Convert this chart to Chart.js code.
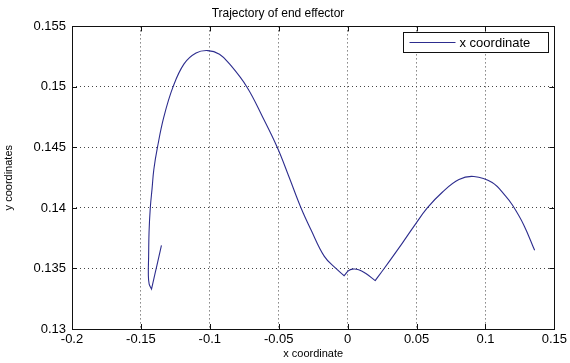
<!DOCTYPE html>
<html>
<head>
<meta charset="utf-8">
<script src="https://cdn.jsdelivr.net/npm/chart.js@4.4.1/dist/chart.umd.min.js"></script>
<style>
  html, body { margin: 0; padding: 0; background: #fff; }
</style>
</head>
<body>
<canvas id="chart" width="570" height="363"></canvas>
<script>
// trajectory of the end effector (in path order)
const trajX = [-0.1351, -0.1369, -0.1387, -0.1405, -0.1423, -0.1440, -0.1446, -0.1444, -0.1441,
  -0.1432, -0.1419, -0.1406, -0.1380, -0.1334, -0.1267, -0.1187, -0.1100, -0.1014, -0.0930,
  -0.0857, -0.0731, -0.0616, -0.0510, -0.0423, -0.0338, -0.0266, -0.0169, -0.0085, -0.0025,
  0.0005, 0.0035, 0.0080, 0.0130, 0.0200, 0.0265, 0.0397, 0.0482, 0.0578, 0.0687, 0.0808,
  0.0916, 0.1049, 0.1145, 0.1198, 0.1278, 0.1357];
const trajY = [0.1369, 0.1360, 0.1351, 0.1342, 0.1333, 0.1337, 0.1345, 0.1360, 0.1380,
  0.1400, 0.1416, 0.1432, 0.1450, 0.1475, 0.1500, 0.1519, 0.1528, 0.1530, 0.1527,
  0.1519, 0.1500, 0.1475, 0.1450, 0.1425, 0.1400, 0.1382, 0.1360, 0.1350, 0.1344,
  0.1348, 0.13495, 0.1349, 0.1346, 0.1340, 0.1350, 0.1371, 0.1385, 0.1400, 0.1413, 0.14235,
  0.1426, 0.1421, 0.1410, 0.1402, 0.1386, 0.1365];
// indices where the path has a sharp corner
const cornerIdx = [4, 28, 33];

const xTicks = [-0.2, -0.15, -0.1, -0.05, 0, 0.05, 0.1, 0.15];
const yTicks = [0.13, 0.135, 0.14, 0.145, 0.15, 0.155];
const seriesLabel = 'x coordinate';

const FONT = 'Liberation Sans, Arial, sans-serif';
const LINE_COLOR = '#2d2d8e';
const fmt = v => String(Number(v.toFixed(3)));

// corners are doubled so the spline stays sharp there
const points = [];
trajX.forEach((x, i) => {
  points.push({ x, y: trajY[i] });
  if (cornerIdx.includes(i)) points.push({ x, y: trajY[i] });
});

// matlab style box: frame, inward ticks and boxed legend
const framePlugin = {
  id: 'frame',
  afterDraw(chart) {
    const { ctx, chartArea: a, scales } = chart;
    ctx.save();
    ctx.strokeStyle = '#111';
    ctx.lineWidth = 1;
    ctx.setLineDash([]);
    ctx.strokeRect(Math.round(a.left) + 0.5, Math.round(a.top) + 0.5,
      Math.round(a.right - a.left), Math.round(a.bottom - a.top));

    ctx.beginPath();
    xTicks.forEach(v => {
      const px = Math.round(scales.x.getPixelForValue(v)) + 0.5;
      ctx.moveTo(px, a.bottom); ctx.lineTo(px, a.bottom - 5);
      ctx.moveTo(px, a.top); ctx.lineTo(px, a.top + 5);
    });
    yTicks.forEach(v => {
      const py = Math.round(scales.y.getPixelForValue(v)) + 0.5;
      ctx.moveTo(a.left, py); ctx.lineTo(a.left + 5, py);
      ctx.moveTo(a.right, py); ctx.lineTo(a.right - 5, py);
    });
    ctx.stroke();

    // legend
    const w = 145, h = 20;
    const lx = Math.round(a.right - 6 - w) + 0.5, ly = Math.round(a.top + 6) + 0.5;
    ctx.fillStyle = '#fff';
    ctx.fillRect(lx, ly, w, h);
    ctx.strokeRect(lx, ly, w, h);
    ctx.strokeStyle = LINE_COLOR;
    ctx.beginPath();
    ctx.moveTo(lx + 6, ly + h / 2); ctx.lineTo(lx + 52, ly + h / 2);
    ctx.stroke();
    ctx.fillStyle = '#000';
    ctx.font = '13px ' + FONT;
    ctx.textBaseline = 'middle';
    ctx.fillText(chart.data.datasets[0].label, lx + 56, ly + h / 2 + 1);
    ctx.restore();
  }
};

new Chart(document.getElementById('chart'), {
  type: 'scatter',
  data: {
    datasets: [{
      label: seriesLabel,
      data: points,
      showLine: true,
      borderColor: LINE_COLOR,
      borderWidth: 1.1,
      pointRadius: 0,
      tension: 0.4
    }]
  },
  options: {
    responsive: false,
    animation: false,
    layout: { padding: { left: 0, right: 14, top: 0, bottom: 0 } },
    plugins: {
      legend: { display: false },
      tooltip: { enabled: false },
      title: {
        display: true,
        text: 'Trajectory of end effector',
        color: '#000',
        font: { family: FONT, size: 12, weight: 'normal' },
        padding: { top: 6, bottom: 6 }
      }
    },
    scales: {
      x: {
        type: 'linear',
        min: -0.2,
        max: 0.15,
        afterBuildTicks: s => { s.ticks = xTicks.map(v => ({ value: v })); },
        afterFit: s => { s.height = 34; },
        grid: { color: '#444', lineWidth: 1, drawTicks: false },
        border: { display: false, dash: [1, 3] },
        ticks: { padding: 3, color: '#000', font: { family: FONT, size: 13 }, callback: fmt, maxRotation: 0 },
        title: { display: true, text: 'x coordinate', color: '#000', font: { family: FONT, size: 11 }, padding: { top: 0, bottom: 2 } }
      },
      y: {
        type: 'linear',
        min: 0.13,
        max: 0.155,
        afterBuildTicks: s => { s.ticks = yTicks.map(v => ({ value: v })); },
        afterFit: s => { s.width = 72; },
        grid: { color: '#444', lineWidth: 1, drawTicks: false },
        border: { display: false, dash: [1, 3] },
        ticks: { padding: 6, color: '#000', font: { family: FONT, size: 13 }, callback: fmt },
        title: { display: true, text: 'y coordinates', color: '#000', font: { family: FONT, size: 11 }, padding: { top: 2, bottom: 0 } }
      }
    }
  },
  plugins: [framePlugin]
});
</script>
</body>
</html>
